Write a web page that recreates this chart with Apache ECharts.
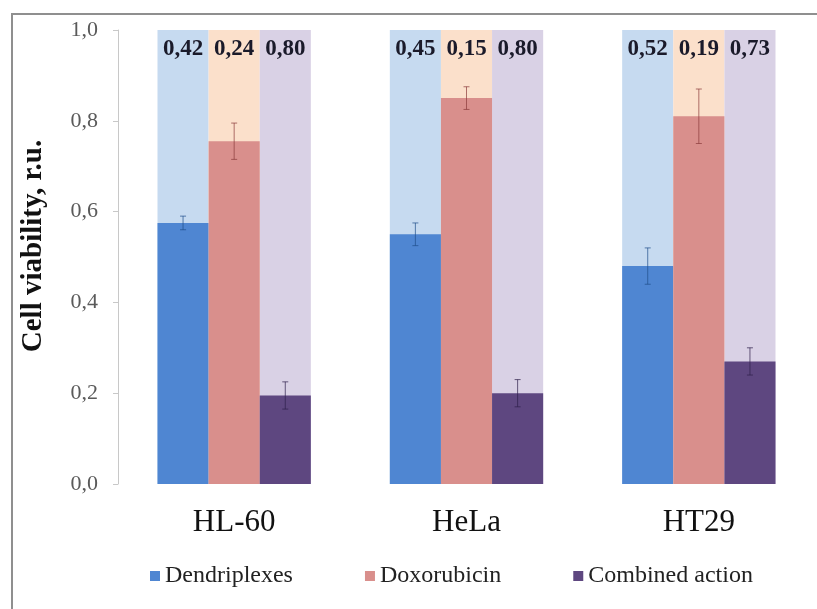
<!DOCTYPE html>
<html><head><meta charset="utf-8">
<script src="https://cdn.jsdelivr.net/npm/echarts@6/dist/echarts.min.js"></script>
<style>html,body{margin:0;padding:0;background:#fff}#c{width:817px;height:609px}</style>
</head><body><div id="c"></div>
<script>
const categories = ['HL-60', 'HeLa', 'HT29'];
const seriesNames = ['Dendriplexes', 'Doxorubicin', 'Combined action'];
const dendriplexes = [0.575, 0.55, 0.48];
const doxorubicin = [0.755, 0.85, 0.81];
const combined = [0.195, 0.20, 0.27];
const dendriplexesErr = [0.015, 0.025, 0.04];
const doxorubicinErr = [0.04, 0.025, 0.06];
const combinedErr = [0.03, 0.03, 0.03];
const dendriplexesInhib = ['0,42', '0,45', '0,52'];
const doxorubicinInhib = ['0,24', '0,15', '0,19'];
const combinedInhib = ['0,80', '0,80', '0,73'];
const yTicks = [0, 0.2, 0.4, 0.6, 0.8, 1.0];
const yTitle = 'Cell viability, r.u.';

const fg = ['#4f86d2', '#d98f8c', '#5e4780'];
const bg = ['#c6daf0', '#fbe0cb', '#d9d1e5'];
const errColor = ['#1f4f8a', '#8a3a3a', '#2e1f4a'];
const values = [dendriplexes, doxorubicin, combined];
const errs = [dendriplexesErr, doxorubicinErr, combinedErr];
const inhib = [dendriplexesInhib, doxorubicinInhib, combinedInhib];
const CAT_GAP = 0.34;
const serif = '"Liberation Serif", "DejaVu Serif", serif';

const series = [];
for (let i = 0; i < 3; i++) {
  series.push({
    name: seriesNames[i] + ' bg', type: 'bar', xAxisIndex: 1,
    barGap: 0, barCategoryGap: (CAT_GAP * 100) + '%',
    data: categories.map(() => yTicks[yTicks.length - 1]), z: 1, silent: true,
    itemStyle: { color: bg[i] },
    label: { show: true, position: 'insideTop', distance: 8, fontFamily: serif, fontWeight: 'bold', fontSize: 23, color: '#1a1a2a',
      formatter: p => inhib[i][p.dataIndex] }
  });
}
for (let i = 0; i < 3; i++) {
  series.push({
    name: seriesNames[i], type: 'bar', xAxisIndex: 0,
    barGap: 0, barCategoryGap: (CAT_GAP * 100) + '%',
    data: values[i], z: 2,
    itemStyle: { color: fg[i] }
  });
}
for (let i = 0; i < 3; i++) {
  series.push({
    type: 'custom', xAxisIndex: 0, z: 5, silent: true,
    data: values[i].map((v, k) => [k, v, errs[i][k]]),
    renderItem: (params, api) => {
      const k = api.value(0), v = api.value(1), e = api.value(2);
      const catW = api.size([1, 0])[0];
      const bw = catW * (1 - CAT_GAP) / 3;
      const c = api.coord([k, v]);
      const x = c[0] + (i - 1) * bw;
      const yHi = api.coord([k, v + e])[1];
      const yLo = api.coord([k, v - e])[1];
      const cap = 3;
      const st = { stroke: errColor[i], lineWidth: 1, opacity: 0.7 };
      return { type: 'group', children: [
        { type: 'line', shape: { x1: x, y1: yHi, x2: x, y2: yLo }, style: st },
        { type: 'line', shape: { x1: x - cap, y1: yHi, x2: x + cap, y2: yHi }, style: st },
        { type: 'line', shape: { x1: x - cap, y1: yLo, x2: x + cap, y2: yLo }, style: st }
      ]};
    }
  });
}

const chart = echarts.init(document.getElementById('c'));
chart.setOption({
  animation: false,
  backgroundColor: '#fff',
  grid: { left: 118, right: 2, top: 30, bottom: 125 },
  legend: {
    data: seriesNames, top: 559, left: 145, itemWidth: 10, itemHeight: 10, itemGap: 72,
    icon: 'rect', textStyle: { fontFamily: serif, fontSize: 24, color: '#222' }
  },
  xAxis: [
    { type: 'category', data: categories, axisLine: { show: false }, axisTick: { show: false },
      axisLabel: { fontFamily: serif, fontSize: 31, color: '#111', margin: 23 } },
    { type: 'category', data: categories, show: false }
  ],
  yAxis: {
    type: 'value', min: yTicks[0], max: yTicks[yTicks.length - 1], interval: 0.2,
    axisLine: { show: true, lineStyle: { color: '#c8c8c8' } },
    axisTick: { show: true, length: 5, lineStyle: { color: '#c8c8c8' } },
    splitLine: { show: false },
    axisLabel: { fontFamily: serif, fontSize: 22, color: '#5a5a5a', margin: 20,
      formatter: v => v.toFixed(1).replace('.', ',') }
  },
  graphic: [
    { type: 'rect', shape: { x: 12, y: 14, width: 830, height: 700 }, style: { fill: null, stroke: '#8f8f8f', lineWidth: 2 }, z: 100 },
    { type: 'text', x: 34, y: 246, rotation: Math.PI / 2,
      style: { text: yTitle, fontFamily: serif, fontWeight: 'bold', fontSize: 29, fill: '#111', align: 'center', verticalAlign: 'middle' } }
  ],
  series: series
});
</script></body></html>
